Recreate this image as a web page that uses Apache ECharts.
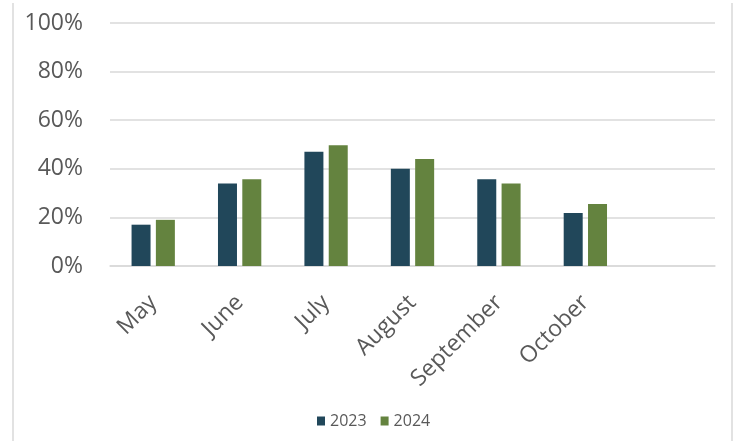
<!DOCTYPE html>
<html>
<head>
<meta charset="utf-8">
<script src="https://cdn.jsdelivr.net/npm/echarts@6/dist/echarts.min.js"></script>
<style>html,body{margin:0;padding:0;background:#fff}#c{width:741px;height:441px}</style>
</head>
<body>
<div id="c"></div>
<script>
const categories = ['May', 'June', 'July', 'August', 'September', 'October', ''];
const seriesNames = ['2023', '2024'];
const values2023 = [0.17, 0.34, 0.47, 0.40, 0.357, 0.218, null];
const values2024 = [0.19, 0.357, 0.497, 0.44, 0.34, 0.255, null];
const yTicks = [0, 0.2, 0.4, 0.6, 0.8, 1.0];

const chart = echarts.init(document.getElementById('c'), null, {renderer: 'canvas'});
const font = '"Open Sans", sans-serif';
chart.setOption({
  animation: false,
  backgroundColor: '#ffffff',
  graphic: [
    {type: 'line', shape: {x1: 13, y1: 3, x2: 13, y2: 441}, style: {stroke: '#d9d9d9', lineWidth: 1.5}},
    {type: 'line', shape: {x1: 732, y1: 3, x2: 732, y2: 441}, style: {stroke: '#d9d9d9', lineWidth: 1.5}}
  ],
  grid: {left: 110, right: 26, top: 23, bottom: 175, containLabel: false},
  legend: {
    data: seriesNames,
    bottom: 7,
    left: 312,
    itemWidth: 8,
    itemHeight: 9,
    itemGap: 14,
    icon: 'rect',
    textStyle: {fontFamily: font, fontSize: 16, color: '#595959', padding: [0, 0, 0, 0]}
  },
  xAxis: {
    type: 'category',
    data: categories,
    axisTick: {show: false},
    axisLine: {show: true, lineStyle: {color: '#d9d9d9', width: 1.5}},
    axisLabel: {rotate: 45, fontFamily: font, fontSize: 23, color: '#595959', margin: 33, interval: 0}
  },
  yAxis: {
    type: 'value',
    min: yTicks[0],
    max: yTicks[yTicks.length - 1],
    interval: 0.2,
    axisLine: {show: false},
    axisTick: {show: false},
    splitLine: {lineStyle: {color: '#d9d9d9', width: 1.5}},
    axisLabel: {
      fontFamily: font, fontSize: 23, color: '#595959', margin: 27,
      formatter: v => Math.round(v * 100) + '%'
    }
  },
  series: [
    {name: seriesNames[0], type: 'bar', data: values2023, barWidth: 19, barGap: '28%',
     itemStyle: {color: '#21475A'}},
    {name: seriesNames[1], type: 'bar', data: values2024, barWidth: 19,
     itemStyle: {color: '#64833F'}}
  ]
});
</script>
</body>
</html>
